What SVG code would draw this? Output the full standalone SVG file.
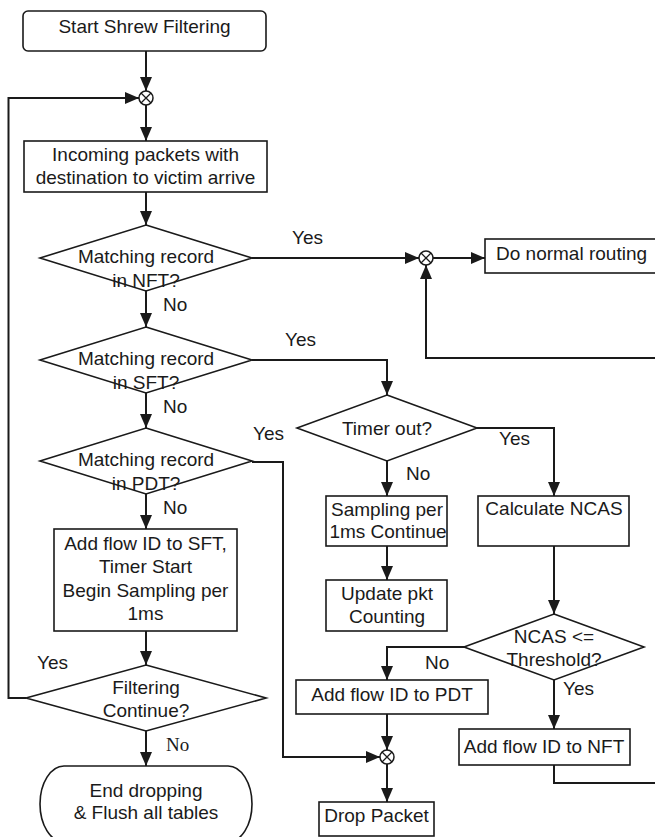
<svg xmlns="http://www.w3.org/2000/svg" width="655" height="837" viewBox="0 0 655 837">
<defs>
<marker id="arr" markerUnits="userSpaceOnUse" markerWidth="14" markerHeight="12" refX="14" refY="6" orient="auto">
<path d="M0,0 L14,6 L0,12 z" fill="#1a1a1a"/>
</marker>
<style>
.s{fill:#fff;stroke:#1a1a1a;stroke-width:1.6}
.c{fill:none;stroke:#1a1a1a;stroke-width:2;marker-end:url(#arr)}
.n{fill:none;stroke:#1a1a1a;stroke-width:2}
.j{fill:#fff;stroke:#1a1a1a;stroke-width:1.5}
.jx{stroke:#1a1a1a;stroke-width:1.3}
text{font-family:"Liberation Sans",Arial,sans-serif;font-size:19px;fill:#1a1a1a}
.m{text-anchor:middle}
.serif{font-family:"Liberation Serif","Times New Roman",serif}
</style>
</defs>
<rect width="655" height="837" fill="#fff"/>

<g id="connectors">
<path class="c" d="M146,51 V91"/>
<path class="c" d="M146,105 V141"/>
<path class="c" d="M146,192 V225"/>
<path class="c" d="M252,258 H419"/>
<path class="c" d="M433,258 H485"/>
<path class="c" d="M554,765 V783 H662 V358 H426 V265"/>
<path class="c" d="M146,291 V327"/>
<path class="c" d="M252,360 H387 V395"/>
<path class="c" d="M146,393 V428"/>
<path class="c" d="M252,462 H283 V757 H380"/>
<path class="c" d="M146,494 V529"/>
<path class="c" d="M146,631 V665"/>
<path class="c" d="M26,698 H8.5 V98 H139"/>
<path class="c" d="M146,731 V766"/>
<path class="c" d="M387,461 V496"/>
<path class="c" d="M477,428 H554 V496"/>
<path class="c" d="M387,546 V580"/>
<path class="c" d="M554,546 V614"/>
<path class="c" d="M464,647 H387 V680"/>
<path class="c" d="M554,680 V729"/>
<path class="c" d="M387,714 V750"/>
<path class="c" d="M387,764 V802"/>
<text x="292" y="244">Yes</text>
<text x="163" y="311">No</text>
<text x="285" y="346">Yes</text>
<text x="163" y="413">No</text>
<text x="253" y="440">Yes</text>
<text x="163" y="514">No</text>
<text x="37" y="669">Yes</text>
<text class="serif" x="166" y="751">No</text>
<text x="406" y="480">No</text>
<text x="499" y="445">Yes</text>
<text x="425" y="669">No</text>
<text x="563" y="695">Yes</text>
</g>

<g id="start">
<rect class="s" x="23" y="11" width="243" height="40" rx="5"/>
<text class="m" x="144.5" y="33">Start Shrew Filtering</text>
</g>

<g id="junction1">
<circle class="j" cx="146" cy="98" r="7"/>
<path class="jx" d="M141,93 L151,103 M151,93 L141,103"/>
</g>

<g id="incoming">
<rect class="s" x="24" y="141" width="243" height="51"/>
<text class="m" x="145.5" y="161">Incoming packets with</text>
<text class="m" x="145.5" y="184">destination to victim arrive</text>
</g>

<g id="nft-check">
<polygon class="s" points="146,225 252,258 146,291 40,258"/>
<text class="m" x="146" y="263">Matching record</text>
<text class="m" x="146" y="287">in NFT?</text>
</g>

<g id="junction2">
<circle class="j" cx="426" cy="258" r="7"/>
<path class="jx" d="M421,253 L431,263 M431,253 L421,263"/>
</g>

<g id="normal-routing">
<rect class="s" x="485" y="239" width="185" height="34"/>
<text x="496" y="260">Do normal routing</text>
</g>

<g id="sft-check">
<polygon class="s" points="146,327 252,360 146,393 40,360"/>
<text class="m" x="146" y="365">Matching record</text>
<text class="m" x="146" y="389">in SFT?</text>
</g>

<g id="pdt-check">
<polygon class="s" points="146,428 252,461 146,494 40,461"/>
<text class="m" x="146" y="466">Matching record</text>
<text class="m" x="146" y="490">in PDT?</text>
</g>

<g id="add-sft">
<rect class="s" x="54" y="529" width="183" height="102"/>
<text class="m" x="145.5" y="550">Add flow ID to SFT,</text>
<text class="m" x="145.5" y="573">Timer Start</text>
<text class="m" x="145.5" y="597">Begin Sampling per</text>
<text class="m" x="145.5" y="620">1ms</text>
</g>

<g id="filtering-continue">
<polygon class="s" points="146,665 266,698 146,731 26,698"/>
<text class="m" x="146" y="694">Filtering</text>
<text class="m" x="146" y="717">Continue?</text>
</g>

<g id="end">
<rect class="s" x="40" y="766" width="212" height="76" rx="24" ry="38"/>
<text class="m" x="146" y="797">End dropping</text>
<text class="m" x="146" y="819">&amp; Flush all tables</text>
</g>

<g id="timer-check">
<polygon class="s" points="387,395 477,428 387,461 297,428"/>
<text class="m" x="387" y="435">Timer out?</text>
</g>

<g id="sampling">
<rect class="s" x="326" y="496" width="121" height="50"/>
<text class="m" x="387" y="516">Sampling per</text>
<text class="m" x="388" y="538">1ms Continue</text>
</g>

<g id="update">
<rect class="s" x="326" y="580" width="121" height="51"/>
<text class="m" x="387" y="600">Update pkt</text>
<text class="m" x="387" y="623">Counting</text>
</g>

<g id="calc-ncas">
<rect class="s" x="478" y="496" width="151" height="50"/>
<text class="m" x="554" y="515">Calculate NCAS</text>
</g>

<g id="ncas-check">
<polygon class="s" points="554,614 644,647 554,680 464,647"/>
<text class="m" x="554" y="643">NCAS &lt;=</text>
<text class="m" x="554" y="666">Threshold?</text>
</g>

<g id="add-pdt">
<rect class="s" x="296" y="680" width="192" height="34"/>
<text class="m" x="392" y="701">Add flow ID to PDT</text>
</g>

<g id="add-nft">
<rect class="s" x="459" y="729" width="171" height="36"/>
<text class="m" x="544" y="753">Add flow ID to NFT</text>
</g>

<g id="junction3">
<circle class="j" cx="387" cy="757" r="7"/>
<path class="jx" d="M382,752 L392,762 M392,752 L382,762"/>
</g>

<g id="drop">
<rect class="s" x="319" y="802" width="115" height="34"/>
<text class="m" x="376.5" y="822">Drop Packet</text>
</g>
</svg>
